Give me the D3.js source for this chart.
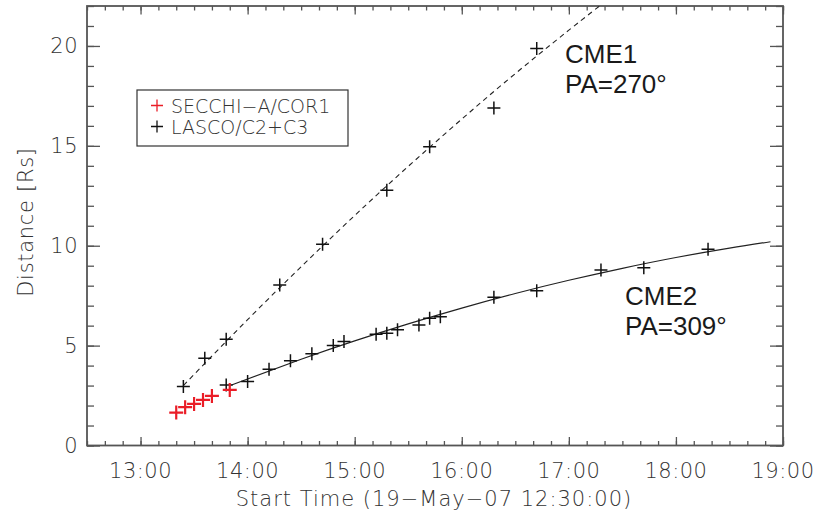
<!DOCTYPE html>
<html>
<head>
<meta charset="utf-8">
<script src="https://cdn.jsdelivr.net/npm/d3@7"></script>
<style>
  html, body { margin: 0; padding: 0; background: #fff; }
  svg { display: block; }
  .tick-label { font-family: "DejaVu Sans", sans-serif; font-weight: 200; fill: #333; }
  .cme-label { font-family: "Liberation Sans", Arial, sans-serif; fill: #1a1a1a; }
</style>
</head>
<body>
<svg id="chart" width="817" height="514"></svg>
<script>
// Height–time measurements, 19 May 2007 (times in UT, distance in solar radii)
const secchiTimes = ["13:20", "13:25", "13:30", "13:35", "13:40", "13:50"];
const secchiDist  = [1.65, 1.92, 2.08, 2.28, 2.48, 2.78];

const cme1Times = ["13:24", "13:36", "13:48", "14:18", "14:42", "15:18", "15:42", "16:18", "16:42"];
const cme1Dist  = [2.95, 4.37, 5.32, 8.03, 10.07, 12.78, 14.95, 16.9, 19.87];

const cme2Times = ["13:48", "14:00", "14:12", "14:24", "14:36", "14:48", "14:54", "15:12", "15:18",
                   "15:24", "15:36", "15:42", "15:48", "16:18", "16:42", "17:18", "17:42", "18:18"];
const cme2Dist  = [3.03, 3.2, 3.82, 4.24, 4.59, 5.0, 5.2, 5.57, 5.62,
                   5.79, 6.03, 6.37, 6.45, 7.42, 7.75, 8.78, 8.9, 9.82];

// Fitted trajectories
const fit1Times = ["13:24", "14:00", "14:36", "15:12", "15:48", "16:24", "17:00", "17:24"];
const fit1Dist  = [3.0, 6.3, 9.47, 12.51, 15.4, 18.17, 20.79, 22.47];
const fit2Times = ["13:51", "14:30", "15:00", "15:30", "16:00", "16:30", "17:00", "17:30", "18:00", "18:30", "18:53"];
const fit2Dist  = [3.03, 4.32, 5.24, 6.09, 6.88, 7.61, 8.27, 8.87, 9.41, 9.88, 10.2];

const xDomain = ["12:30", "19:00"];
const yDomain = [0, 22];
const xMajor = ["13:00", "14:00", "15:00", "16:00", "17:00", "18:00", "19:00"];
const yMajor = [0, 5, 10, 15, 20];

const legendLabels = ["SECCHI\u2212A/COR1", "LASCO/C2+C3"];
const legendColors = ["#ea1d27", "#111"];

const parseT = d3.timeParse("%H:%M");

const svg = d3.select("#chart");
const box = { left: 87, right: 783, top: 6, bottom: 445.5 };

const x = d3.scaleTime().domain(xDomain.map(parseT)).range([box.left, box.right]);
const y = d3.scaleLinear().domain(yDomain).range([box.bottom, box.top]);

const axisColor = "#555";
const xMinor = d3.timeMinute.every(10).range(x.domain()[0], d3.timeMinute.offset(x.domain()[1], 1));
const yMinor = d3.range(0, 23, 1);

function styleAxis(g) {
  g.select(".domain").remove();
  g.selectAll(".tick line").attr("stroke", axisColor).attr("stroke-width", 1.3);
}

function tickPair(axisFn, pos, scale, minorVals, majorVals, minorLen, majorLen, horizontal) {
  const tr = horizontal ? `translate(0,${pos})` : `translate(${pos},0)`;
  svg.append("g").attr("transform", tr)
    .call(axisFn(scale).tickValues(minorVals).tickSize(minorLen).tickFormat(""))
    .call(styleAxis);
  svg.append("g").attr("transform", tr)
    .call(axisFn(scale).tickValues(majorVals).tickSize(majorLen).tickFormat(""))
    .call(styleAxis);
}

const xMajorDates = xMajor.map(parseT);
tickPair(d3.axisTop, box.bottom, x, xMinor, xMajorDates, 4.5, 8.5, true);
tickPair(d3.axisBottom, box.top, x, xMinor, xMajorDates, 4.5, 8.5, true);
tickPair(d3.axisRight, box.left, y, yMinor, yMajor, 7, 13, false);
tickPair(d3.axisLeft, box.right, y, yMinor, yMajor, 7, 13, false);

// tick labels
svg.append("g").selectAll("text").data(xMajor).join("text")
  .attr("class", "tick-label")
  .attr("x", d => x(parseT(d))).attr("y", 478)
  .attr("text-anchor", "middle").attr("font-size", 21)
  .attr("letter-spacing", 0.5)
  .text(d => d);
svg.append("g").selectAll("text").data(yMajor).join("text")
  .attr("class", "tick-label")
  .attr("x", 78).attr("y", d => y(d) + 7.5)
  .attr("text-anchor", "end").attr("font-size", 21)
  .attr("letter-spacing", 0.5)
  .text(d => d);

// frame
svg.append("rect")
  .attr("x", box.left).attr("y", box.top)
  .attr("width", box.right - box.left).attr("height", box.bottom - box.top)
  .attr("fill", "none").attr("stroke", axisColor).attr("stroke-width", 1.8);

// axis titles
svg.append("text").attr("class", "tick-label")
  .attr("x", 434).attr("y", 506).attr("text-anchor", "middle").attr("font-size", 21)
  .attr("letter-spacing", 1)
  .text("Start Time (19\u2212May\u221207 12:30:00)");
svg.append("text").attr("class", "tick-label")
  .attr("transform", "translate(33,222) rotate(-90)")
  .attr("text-anchor", "middle").attr("font-size", 21)
  .attr("letter-spacing", 0.7)
  .text("Distance [Rs]");

// plot contents, clipped to the frame
svg.append("clipPath").attr("id", "plot-clip")
  .append("rect").attr("x", box.left).attr("y", box.top)
  .attr("width", box.right - box.left).attr("height", box.bottom - box.top);
const plot = svg.append("g").attr("clip-path", "url(#plot-clip)");

const line = d3.line().x(d => x(parseT(d[0]))).y(d => y(d[1])).curve(d3.curveNatural);

plot.append("path")
  .datum(d3.zip(fit1Times, fit1Dist))
  .attr("d", line)
  .attr("fill", "none").attr("stroke", "#222").attr("stroke-width", 1.1)
  .attr("stroke-dasharray", "5,4");

plot.append("path")
  .datum(d3.zip(fit2Times, fit2Dist))
  .attr("d", line)
  .attr("fill", "none").attr("stroke", "#222").attr("stroke-width", 1.2);

function plus(g, data, color, size, width) {
  g.selectAll(null).data(data).join("path")
    .attr("d", d => {
      const cx = x(parseT(d[0])), cy = y(d[1]), h = size / 2;
      return `M${cx - h},${cy}H${cx + h}M${cx},${cy - h}V${cy + h}`;
    })
    .attr("stroke", color).attr("stroke-width", width).attr("fill", "none");
}

plus(plot.append("g"), d3.zip(cme1Times, cme1Dist), "#111", 13, 1.5);
plus(plot.append("g"), d3.zip(cme2Times, cme2Dist), "#111", 13, 1.5);
plus(plot.append("g"), d3.zip(secchiTimes, secchiDist), legendColors[0], 14, 2.2);

// legend
const legend = svg.append("g");
legend.append("rect")
  .attr("x", 137).attr("y", 90).attr("width", 211).attr("height", 56)
  .attr("fill", "#fff").attr("stroke", "#333").attr("stroke-width", 1.2);
legendLabels.forEach((lab, i) => {
  const cy = 105.5 + i * 21;
  legend.append("path")
    .attr("d", `M151,${cy}H163M157,${cy - 6}V${cy + 6}`)
    .attr("stroke", legendColors[i]).attr("stroke-width", 1.3);
  legend.append("text").attr("class", "tick-label")
    .attr("x", 171).attr("y", cy + 7).attr("font-size", 19)
    .text(lab);
});

// CME annotations
const notes = [
  { lines: ["CME1", "PA=270\u00b0"], x: 565, y: 63 },
  { lines: ["CME2", "PA=309\u00b0"], x: 625, y: 305 }
];
notes.forEach(n => {
  n.lines.forEach((t, i) => {
    svg.append("text").attr("class", "cme-label")
      .attr("x", n.x).attr("y", n.y + i * 30).attr("font-size", 26)
      .text(t);
  });
});
</script>
</body>
</html>
